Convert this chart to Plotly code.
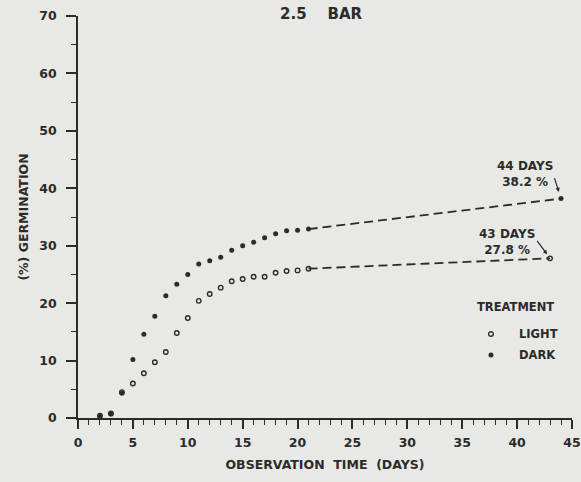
import plotly.graph_objects as go

# Observation days (daily counts) and cumulative germination (%)
days = [2, 3, 4, 5, 6, 7, 8, 9, 10, 11, 12, 13, 14, 15, 16, 17, 18, 19, 20, 21]
light_pct = [0.4, 0.8, 4.5, 6.0, 7.8, 9.7, 11.5, 14.8, 17.4, 20.4, 21.6, 22.7,
             23.8, 24.2, 24.6, 24.6, 25.3, 25.6, 25.7, 26.0]
dark_pct = [0.3, 0.7, 4.3, 10.2, 14.6, 17.7, 21.3, 23.3, 25.0, 26.8, 27.4, 28.0,
            29.2, 30.0, 30.6, 31.4, 32.1, 32.6, 32.7, 32.9]

# Final observations
light_final_day, light_final_pct = 43, 27.8
dark_final_day, dark_final_pct = 44, 38.2

treatments = ["LIGHT", "DARK"]

ink = "#2b2b2b"
bg = "#e8e8e5"
font_family = "DejaVu Sans, Verdana, sans-serif"


def bold(size):
    return dict(family=font_family, size=size, color=ink, weight="bold")


fig = go.Figure()

# dashed extensions from the last daily count to the final observation
for last_pct, fday, fpct in [(dark_pct[-1], dark_final_day, dark_final_pct),
                             (light_pct[-1], light_final_day, light_final_pct)]:
    fig.add_trace(go.Scatter(
        x=[days[-1], fday], y=[last_pct, fpct],
        mode="lines", line=dict(color=ink, width=1.8, dash="9px,5px"),
        showlegend=False, hoverinfo="skip"))

light_marker = dict(symbol="circle-open", size=4.5, color=ink, line=dict(width=1.4, color=ink))
dark_marker = dict(symbol="circle", size=5, color=ink)

fig.add_trace(go.Scatter(
    x=days + [light_final_day], y=light_pct + [light_final_pct],
    mode="markers", name=treatments[0], marker=light_marker, showlegend=False))
fig.add_trace(go.Scatter(
    x=days + [dark_final_day], y=dark_pct + [dark_final_pct],
    mode="markers", name=treatments[1], marker=dark_marker, showlegend=False))

# final-value labels with pointer strokes
fig.add_annotation(x=40.7, y=42.5, xref="x", yref="y",
                   text=f"{dark_final_day} DAYS<br>{dark_final_pct} %",
                   showarrow=False, xanchor="center", yanchor="middle", align="center",
                   font=bold(12))
fig.add_annotation(x=39.1, y=30.7, xref="x", yref="y",
                   text=f"{light_final_day} DAYS<br>{light_final_pct} %",
                   showarrow=False, xanchor="center", yanchor="middle", align="center",
                   font=bold(12))
fig.add_annotation(x=dark_final_day, y=dark_final_pct, text="", showarrow=True,
                   ax=-7, ay=-22, arrowhead=2, arrowsize=0.7, arrowwidth=1.2,
                   arrowcolor=ink, standoff=7)
fig.add_annotation(x=light_final_day, y=light_final_pct, text="", showarrow=True,
                   ax=-14, ay=-19, arrowhead=2, arrowsize=0.7, arrowwidth=1.2,
                   arrowcolor=ink, standoff=5)

# chart title
fig.add_annotation(x=0.493, y=1.005, xref="paper", yref="paper",
                   text="2.5&nbsp;&nbsp;&nbsp;&nbsp;BAR", showarrow=False,
                   xanchor="center", yanchor="middle", font=bold(15))

# treatment key
fig.add_annotation(x=0.885, y=0.276, xref="paper", yref="paper", text="TREATMENT",
                   showarrow=False, xanchor="center", yanchor="middle", font=bold(11.5))
key_rows = [(0.209, light_marker), (0.157, dark_marker)]
for name, (ky, mk) in zip(treatments, key_rows):
    fig.add_annotation(x=0.889, y=ky, xref="paper", yref="paper", text=name,
                       showarrow=False, xanchor="left", yanchor="middle", font=bold(11.5))
    filled = mk["symbol"] == "circle"
    r = 2.5 if filled else 2.3
    fig.add_shape(type="circle", xref="paper", yref="paper",
                  xsizemode="pixel", ysizemode="pixel",
                  xanchor=0.836, yanchor=ky, x0=-r, x1=r, y0=-r, y1=r,
                  fillcolor=ink if filled else "rgba(0,0,0,0)",
                  line=dict(color=ink, width=0 if filled else 1.4))

fig.update_layout(
    width=581, height=482,
    margin=dict(l=78, r=9, t=16, b=64, autoexpand=False),
    paper_bgcolor=bg, plot_bgcolor=bg,
    font=dict(family=font_family, size=12, color=ink),
    showlegend=False,
    xaxis=dict(
        range=[0, 45], tickmode="linear", tick0=0, dtick=5, automargin=False,
        ticks="outside", ticklen=9, tickwidth=1.6, tickcolor=ink,
        minor=dict(dtick=1, ticks="outside", ticklen=5, tickwidth=1.3, tickcolor=ink),
        showline=True, linecolor=ink, linewidth=1.8, showgrid=False, zeroline=False,
        tickfont=bold(12.5), ticklabelstandoff=3, ticklabeloverflow="allow",
        title=dict(text="OBSERVATION&nbsp;&nbsp;TIME&nbsp;&nbsp;(DAYS)", font=bold(12.5), standoff=11)),
    yaxis=dict(
        range=[0, 70], tickmode="linear", tick0=0, dtick=10, automargin=False,
        ticks="outside", ticklen=10, tickwidth=1.6, tickcolor=ink,
        minor=dict(dtick=5, ticks="outside", ticklen=5, tickwidth=1.3, tickcolor=ink),
        showline=True, linecolor=ink, linewidth=1.8, showgrid=False, zeroline=False,
        tickfont=bold(12.5), ticklabelstandoff=7, ticklabeloverflow="allow",
        title=dict(text="(%) GERMINATION", font=bold(12.5), standoff=8)),
)

fig.write_html("out.html")
